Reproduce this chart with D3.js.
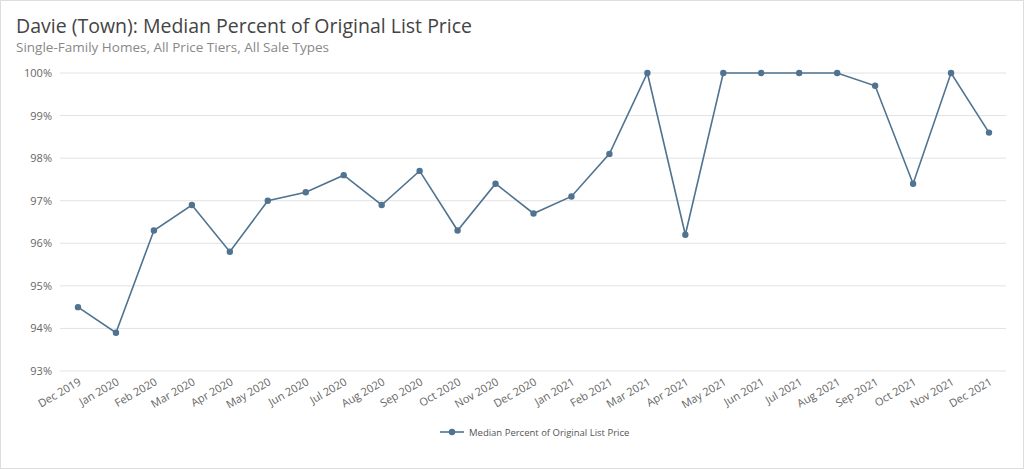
<!DOCTYPE html>
<html>
<head>
<meta charset="utf-8">
<script src="https://cdn.jsdelivr.net/npm/d3@7"></script>
<style>
  body { margin: 0; background: #fff; font-family: "Open Sans", sans-serif; }
</style>
</head>
<body>
<div id="chart"></div>
<script>
// values
var months = ['Dec 2019','Jan 2020','Feb 2020','Mar 2020','Apr 2020','May 2020','Jun 2020',
  'Jul 2020','Aug 2020','Sep 2020','Oct 2020','Nov 2020','Dec 2020','Jan 2021','Feb 2021',
  'Mar 2021','Apr 2021','May 2021','Jun 2021','Jul 2021','Aug 2021','Sep 2021','Oct 2021',
  'Nov 2021','Dec 2021'];
var pctValues = [94.5, 93.9, 96.3, 96.9, 95.8, 97.0, 97.2, 97.6, 96.9, 97.7, 96.3, 97.4, 96.7,
  97.1, 98.1, 100, 96.2, 100, 100, 100, 100, 99.7, 97.4, 100, 98.6];
var yTicks = [93, 94, 95, 96, 97, 98, 99, 100];
var seriesName = 'Median Percent of Original List Price';

var W = 1024, H = 469, color = '#4f7390';

var svg = d3.select('#chart').append('svg')
    .attr('width', W)
    .attr('height', H);

svg.append('rect')
    .attr('x', 0.5).attr('y', 0.5)
    .attr('width', W - 1).attr('height', H - 1)
    .attr('fill', '#fff').attr('stroke', '#ddd');

svg.append('text')
    .attr('x', 16).attr('y', 33)
    .attr('font-size', 19.5).attr('fill', '#444')
    .text('Davie (Town): Median Percent of Original List Price');
svg.append('text')
    .attr('x', 16).attr('y', 52)
    .attr('font-size', 13.5).attr('fill', '#888')
    .text('Single-Family Homes, All Price Tiers, All Sale Types');

var x = d3.scalePoint().domain(months).range([78, 989]);
var y = d3.scaleLinear().domain([93, 100]).range([371, 73]);

// gridlines
svg.selectAll('line.grid')
    .data(yTicks).enter()
    .append('line')
      .attr('x1', 60).attr('x2', 1006)
      .attr('y1', function(d) { return y(d); })
      .attr('y2', function(d) { return y(d); })
      .attr('stroke', '#e2e2e2');

svg.selectAll('text.ylab')
    .data(yTicks).enter()
    .append('text')
      .attr('x', 52)
      .attr('y', function(d) { return y(d) + 4; })
      .attr('text-anchor', 'end')
      .attr('font-size', 11).attr('fill', '#666')
      .text(function(d) { return d + '%'; });

svg.selectAll('text.xlab')
    .data(months).enter()
    .append('text')
      .attr('text-anchor', 'end')
      .attr('font-size', 11).attr('fill', '#666')
      .attr('transform', function(d) { return 'translate(' + (x(d) + 4) + ',384) rotate(-30)'; })
      .text(function(d) { return d; });

var line = d3.line()
    .x(function(d, i) { return x(months[i]); })
    .y(function(d) { return y(d); });

svg.append('path')
    .datum(pctValues)
    .attr('d', line)
    .attr('fill', 'none')
    .attr('stroke', color)
    .attr('stroke-width', 1.6);

svg.selectAll('circle.pt')
    .data(pctValues).enter()
    .append('circle')
      .attr('cx', function(d, i) { return x(months[i]); })
      .attr('cy', function(d) { return y(d); })
      .attr('r', 3.2)
      .attr('fill', color);

// legend
var lg = svg.append('g').attr('transform', 'translate(440,432)');
lg.append('line').attr('x1', 0).attr('x2', 24).attr('stroke', color).attr('stroke-width', 1.6);
lg.append('circle').attr('cx', 12).attr('r', 3.2).attr('fill', color);
lg.append('text').attr('x', 29).attr('y', 3.5)
    .attr('font-size', 9.5).attr('fill', '#555')
    .text(seriesName);
</script>
</body>
</html>
